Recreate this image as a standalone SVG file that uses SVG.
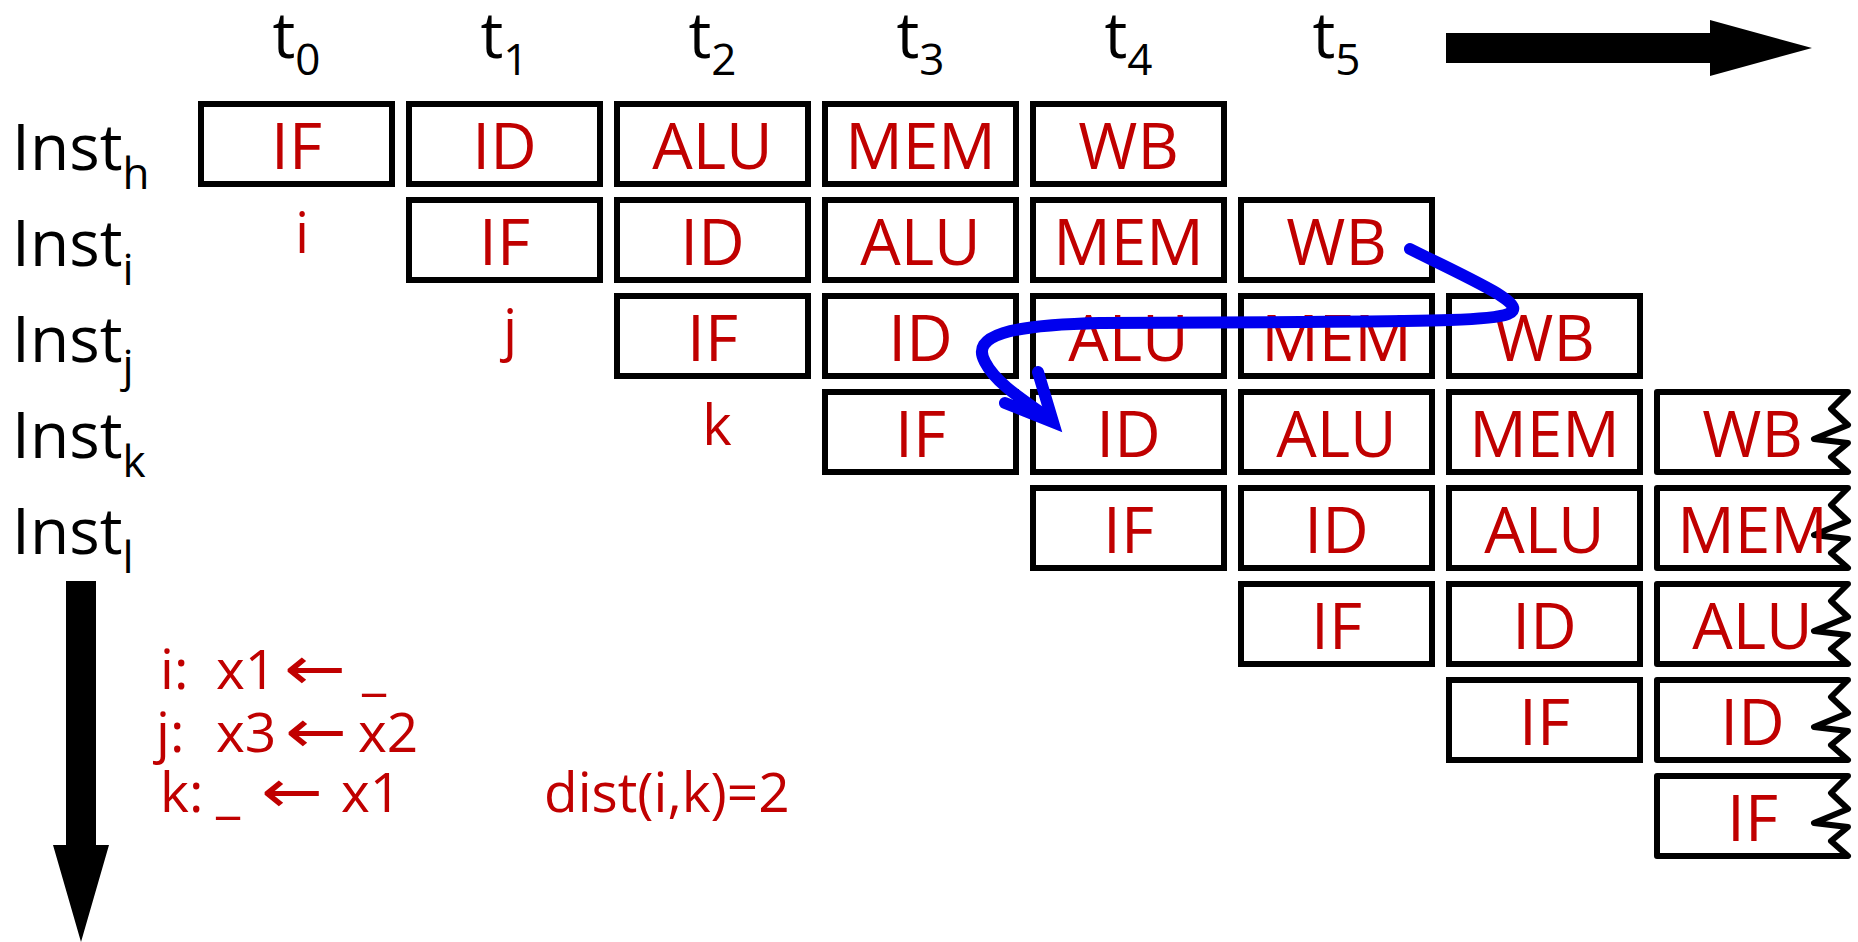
<svg xmlns="http://www.w3.org/2000/svg" width="1858" height="942" viewBox="0 0 1858 942">
<style>
.box{fill:#fff;stroke:#000;stroke-width:6}
.zz{fill:#fff;stroke:#000;stroke-width:6;stroke-linejoin:round}
.st{font-family:'Open Sans','Noto Sans','DejaVu Sans',sans-serif;font-size:64px;fill:#C00000;text-anchor:middle}
.lb{font-family:'Open Sans','Noto Sans','DejaVu Sans',sans-serif;font-size:64px;fill:#000}
.tl{font-family:'Open Sans','Noto Sans','DejaVu Sans',sans-serif;font-size:64px;fill:#000;text-anchor:middle}
.sub{font-size:44px}
.rd{font-family:'Open Sans','Noto Sans','DejaVu Sans',sans-serif;font-size:56px;fill:#C00000;text-anchor:middle}
.code{font-family:'Open Sans','Noto Sans','DejaVu Sans',sans-serif;font-size:55px;fill:#C00000}
.arw{font-family:'DejaVu Sans',sans-serif;font-size:60px;fill:#C00000}
.blue{fill:none;stroke:#0000EE;stroke-width:12;stroke-linecap:round}
</style>
<rect width="1858" height="942" fill="#fff"/>

<g id="time-labels">
<text class="tl" x="296.5" y="58">t<tspan class="sub" dy="17">0</tspan></text>
<text class="tl" x="504.5" y="58">t<tspan class="sub" dy="17">1</tspan></text>
<text class="tl" x="712.5" y="58">t<tspan class="sub" dy="17">2</tspan></text>
<text class="tl" x="920.5" y="58">t<tspan class="sub" dy="17">3</tspan></text>
<text class="tl" x="1128.5" y="58">t<tspan class="sub" dy="17">4</tspan></text>
<text class="tl" x="1336.5" y="58">t<tspan class="sub" dy="17">5</tspan></text>
</g>

<g id="time-arrow">
<polygon points="1446,33 1710,33 1710,20 1812,48 1710,76 1710,63 1446,63" fill="#000"/>
</g>

<g id="inst-labels">
<text class="lb" x="12" y="170">Inst<tspan class="sub" dy="19">h</tspan></text>
<text class="lb" x="12" y="266">Inst<tspan class="sub" dy="19">i</tspan></text>
<text class="lb" x="12" y="362">Inst<tspan class="sub" dy="19">j</tspan></text>
<text class="lb" x="12" y="458">Inst<tspan class="sub" dy="19">k</tspan></text>
<text class="lb" x="12" y="554">Inst<tspan class="sub" dy="19">l</tspan></text>
</g>

<g id="inst-arrow">
<polygon points="66,581 96,581 96,845 109,845 81,942 53,845 66,845" fill="#000"/>
</g>

<!-- Row h -->
<g id="h-IF"><rect class="box" x="201" y="104" width="191" height="80"/><text class="st" x="296.5" y="169">IF</text></g>
<g id="h-ID"><rect class="box" x="409" y="104" width="191" height="80"/><text class="st" x="504.5" y="169">ID</text></g>
<g id="h-ALU"><rect class="box" x="617" y="104" width="191" height="80"/><text class="st" x="712.5" y="169">ALU</text></g>
<g id="h-MEM"><rect class="box" x="825" y="104" width="191" height="80"/><text class="st" x="920.5" y="169">MEM</text></g>
<g id="h-WB"><rect class="box" x="1033" y="104" width="191" height="80"/><text class="st" x="1128.5" y="169">WB</text></g>

<!-- Row i -->
<g id="i-IF"><rect class="box" x="409" y="200" width="191" height="80"/><text class="st" x="504.5" y="265">IF</text></g>
<g id="i-ID"><rect class="box" x="617" y="200" width="191" height="80"/><text class="st" x="712.5" y="265">ID</text></g>
<g id="i-ALU"><rect class="box" x="825" y="200" width="191" height="80"/><text class="st" x="920.5" y="265">ALU</text></g>
<g id="i-MEM"><rect class="box" x="1033" y="200" width="191" height="80"/><text class="st" x="1128.5" y="265">MEM</text></g>
<g id="i-WB"><rect class="box" x="1241" y="200" width="191" height="80"/><text class="st" x="1336.5" y="265">WB</text></g>

<!-- Row j -->
<g id="j-IF"><rect class="box" x="617" y="296" width="191" height="80"/><text class="st" x="712.5" y="361">IF</text></g>
<g id="j-ID"><rect class="box" x="825" y="296" width="191" height="80"/><text class="st" x="920.5" y="361">ID</text></g>
<g id="j-ALU"><rect class="box" x="1033" y="296" width="191" height="80"/><text class="st" x="1128.5" y="361">ALU</text></g>
<g id="j-MEM"><rect class="box" x="1241" y="296" width="191" height="80"/><text class="st" x="1336.5" y="361">MEM</text></g>
<g id="j-WB"><rect class="box" x="1449" y="296" width="191" height="80"/><text class="st" x="1544.5" y="361">WB</text></g>

<!-- Row k -->
<g id="k-IF"><rect class="box" x="825" y="392" width="191" height="80"/><text class="st" x="920.5" y="457">IF</text></g>
<g id="k-ID"><rect class="box" x="1033" y="392" width="191" height="80"/><text class="st" x="1128.5" y="457">ID</text></g>
<g id="k-ALU"><rect class="box" x="1241" y="392" width="191" height="80"/><text class="st" x="1336.5" y="457">ALU</text></g>
<g id="k-MEM"><rect class="box" x="1449" y="392" width="191" height="80"/><text class="st" x="1544.5" y="457">MEM</text></g>
<g id="k-WB"><path class="zz" d="M1657,392 H1848 L1831,409 L1848,425 L1814,439 L1848,443 L1831,457 L1848,472 H1657 Z"/><text class="st" x="1752.5" y="457">WB</text></g>

<!-- Row l -->
<g id="l-IF"><rect class="box" x="1033" y="488" width="191" height="80"/><text class="st" x="1128.5" y="553">IF</text></g>
<g id="l-ID"><rect class="box" x="1241" y="488" width="191" height="80"/><text class="st" x="1336.5" y="553">ID</text></g>
<g id="l-ALU"><rect class="box" x="1449" y="488" width="191" height="80"/><text class="st" x="1544.5" y="553">ALU</text></g>
<g id="l-MEM"><path class="zz" d="M1657,488 H1848 L1831,505 L1848,521 L1814,535 L1848,539 L1831,553 L1848,568 H1657 Z"/><text class="st" x="1752.5" y="553">MEM</text></g>

<!-- Row 5 -->
<g id="m-IF"><rect class="box" x="1241" y="584" width="191" height="80"/><text class="st" x="1336.5" y="649">IF</text></g>
<g id="m-ID"><rect class="box" x="1449" y="584" width="191" height="80"/><text class="st" x="1544.5" y="649">ID</text></g>
<g id="m-ALU"><path class="zz" d="M1657,584 H1848 L1831,601 L1848,617 L1814,631 L1848,635 L1831,649 L1848,664 H1657 Z"/><text class="st" x="1752.5" y="649">ALU</text></g>

<!-- Row 6 -->
<g id="n-IF"><rect class="box" x="1449" y="680" width="191" height="80"/><text class="st" x="1544.5" y="745">IF</text></g>
<g id="n-ID"><path class="zz" d="M1657,680 H1848 L1831,697 L1848,713 L1814,727 L1848,731 L1831,745 L1848,760 H1657 Z"/><text class="st" x="1752.5" y="745">ID</text></g>

<!-- Row 7 -->
<g id="o-IF"><path class="zz" d="M1657,776 H1848 L1831,793 L1848,809 L1814,823 L1848,827 L1831,841 L1848,856 H1657 Z"/><text class="st" x="1752.5" y="841">IF</text></g>

<g id="markers">
<text class="rd" x="302" y="253">i</text>
<text class="rd" x="510" y="349">j</text>
<text class="rd" x="717" y="445">k</text>
</g>

<g id="code">
<text class="code" x="160" y="689">i:</text>
<text class="code" x="216" y="689">x1</text>
<text class="arw" x="284" y="689" textLength="62" lengthAdjust="spacingAndGlyphs">←</text>
<text class="code" x="362" y="689">_</text>
<text class="code" x="156" y="752">j:</text>
<text class="code" x="216" y="752">x3</text>
<text class="arw" x="285" y="752" textLength="62" lengthAdjust="spacingAndGlyphs">←</text>
<text class="code" x="358" y="752">x2</text>
<text class="code" x="160" y="812">k:</text>
<text class="code" x="216" y="812">_</text>
<text class="arw" x="261" y="812" textLength="62" lengthAdjust="spacingAndGlyphs">←</text>
<text class="code" x="341" y="812">x1</text>
<text class="code" x="544" y="812">dist(i,k)=2</text>
</g>

<g id="connectors">
<path class="blue" d="M1410,249 C1480,284 1530,305 1508,314 C1490,321 1420,321 1300,322 L1100,323 C1010,325 970,335 985,362 C995,382 1020,398 1050,419"/>
<path class="blue" style="stroke-linejoin:miter" d="M1038,372 L1053,422 L1005,403"/>
</g>
</svg>
